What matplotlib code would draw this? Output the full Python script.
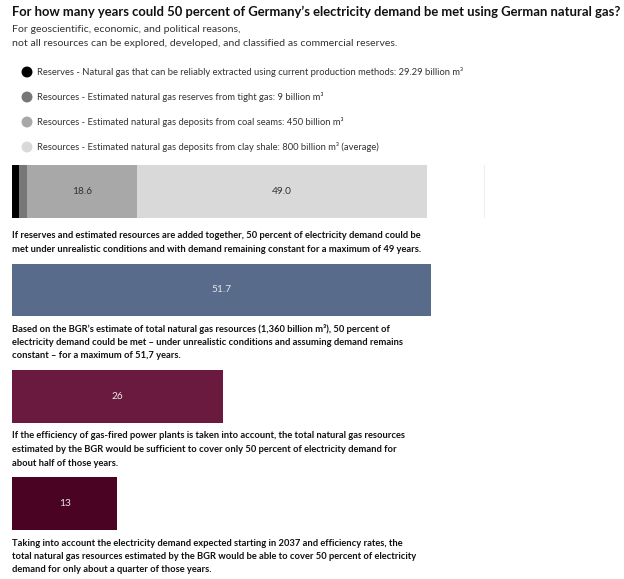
import matplotlib
matplotlib.use("Agg")
import matplotlib.pyplot as plt
import numpy as np

plt.rcParams['font.family'] = ['Lato', 'DejaVu Sans']

W, H = 624, 579

title = "For how many years could 50 percent of Germany\u2019s electricity demand be met using German natural gas?"
subtitle = ["For geoscientific, economic, and political reasons,",
            "not all resources can be explored, developed, and classified as commercial reserves."]

legend_labels = [
    "Reserves - Natural gas that can be reliably extracted using current production methods: 29.29 billion m\u00b3",
    "Resources - Estimated natural gas reserves from tight gas: 9 billion m\u00b3",
    "Resources - Estimated natural gas deposits from coal seams: 450 billion m\u00b3",
    "Resources - Estimated natural gas deposits from clay shale: 800 billion m\u00b3 (average)",
]
stack_colors = ["#000000", "#777777", "#a8a8a8", "#d9d9d9"]

# stacked bar (years, as drawn)
stack_values = [1.1, 1.4, 18.6, 49.0]
stack_labels = ["", "", "18.6", "49.0"]

# single bars
single_values = [51.7, 26, 13]
single_labels = ["51.7", "26", "13"]
single_colors = ["#586b8b", "#6a1a3f", "#4a0323"]

captions = [
    ["If reserves and estimated resources are added together, 50 percent of electricity demand could be",
     "met under unrealistic conditions and with demand remaining constant for a maximum of 49 years."],
    ["Based on the BGR\u2019s estimate of total natural gas resources (1,360 billion m\u00b3), 50 percent of",
     "electricity demand could be met \u2013 under unrealistic conditions and assuming demand remains",
     "constant \u2013 for a maximum of 51,7 years."],
    ["If the efficiency of gas-fired power plants is taken into account, the total natural gas resources",
     "estimated by the BGR would be sufficient to cover only 50 percent of electricity demand for",
     "about half of those years."],
    ["Taking into account the electricity demand expected starting in 2037 and efficiency rates, the",
     "total natural gas resources estimated by the BGR would be able to cover 50 percent of electricity",
     "demand for only about a quarter of those years."],
]

fig = plt.figure(figsize=(W / 100, H / 100), dpi=100)
fig.patch.set_facecolor("white")
renderer = fig.canvas.get_renderer()

def fx(x):
    return x / W

def fy(y):
    return 1 - y / H

def fit_text(x, y, s, right, size, **kw):
    t = fig.text(fx(x), fy(y), s, fontsize=size, va="center", ha="left", **kw)
    w = t.get_window_extent(renderer).width
    t.set_fontsize(size * (right - x) / w)
    return t

# Title & subtitle
fit_text(12, 12, title, 619, 10, fontweight="bold", color="#111111")
fit_text(12, 29, subtitle[0], 242, 7.8, color="#333333")
fit_text(12, 44, subtitle[1], 398, 7.8, color="#333333")

# Legend
leg_ax = fig.add_axes([0, 0, 1, 1], zorder=-1)
leg_ax.set_xlim(0, W)
leg_ax.set_ylim(H, 0)
leg_ax.axis("off")
leg_y = [72, 97, 122, 147]
leg_sz = None
for i, (yy, lab, col) in enumerate(zip(leg_y, legend_labels, stack_colors)):
    leg_ax.scatter([27], [yy], s=62, color=col, edgecolors="none")
    if i == 0:
        t = fit_text(37, yy, lab, 462, 6.6, color="#333333")
        leg_sz = t.get_fontsize()
    else:
        fig.text(fx(37), fy(yy), lab, fontsize=leg_sz, color="#333333", va="center", ha="left")
# faint separator line right of the first bar
leg_ax.plot([484, 484], [165, 217], color="#eeeeee", lw=0.8)

def bar_axes(x0, x1, y0, y1):
    ax = fig.add_axes([fx(x0), fy(y1), fx(x1 - x0), (y1 - y0) / H])
    ax.axis("off")
    ax.set_ylim(-0.5, 0.5)
    return ax

# Stacked bar
ax1 = bar_axes(12, 427, 165, 218)
total = sum(stack_values)
ax1.set_xlim(0, total)
lefts = np.concatenate([[0], np.cumsum(stack_values)[:-1]])
bars = ax1.barh([0] * len(stack_values), stack_values, left=lefts, height=1.0,
                color=stack_colors, edgecolor="none")
for b, lab in zip(bars, stack_labels):
    if lab:
        ax1.text(b.get_x() + b.get_width() / 2, 0, lab, fontsize=7.3, color="#333333",
                 ha="center", va="center")

# Single bars, common scale
scale_max = 51.7 * (W - 12 - 12) / (431 - 12)
bar_ys = [(264, 316), (370, 423), (477, 530)]
for val, lab, col, (y0, y1) in zip(single_values, single_labels, single_colors, bar_ys):
    ax = bar_axes(12, W - 12, y0, y1)
    ax.set_xlim(0, scale_max)
    ax.barh([0], [val], height=1.0, color=col, edgecolor="none")
    ax.text(val / 2, 0, lab, fontsize=7.3, color="#e8e8e8", ha="center", va="center")

# Captions
cap_y = [[235, 249], [329, 342.5, 356], [436, 449.5, 463], [543, 556.5, 570]]
t = fit_text(12, cap_y[0][0], captions[0][0], 427, 7.0, fontweight="bold", color="#111111")
cap_sz = t.get_fontsize()
for k, (lines, ys) in enumerate(zip(captions, cap_y)):
    for j, (line, yy) in enumerate(zip(lines, ys)):
        if k == 0 and j == 0:
            continue
        fig.text(fx(12), fy(yy), line, fontsize=cap_sz, fontweight="bold", color="#111111",
                 va="center", ha="left")

fig.savefig("out.png", dpi=100, facecolor="white")
